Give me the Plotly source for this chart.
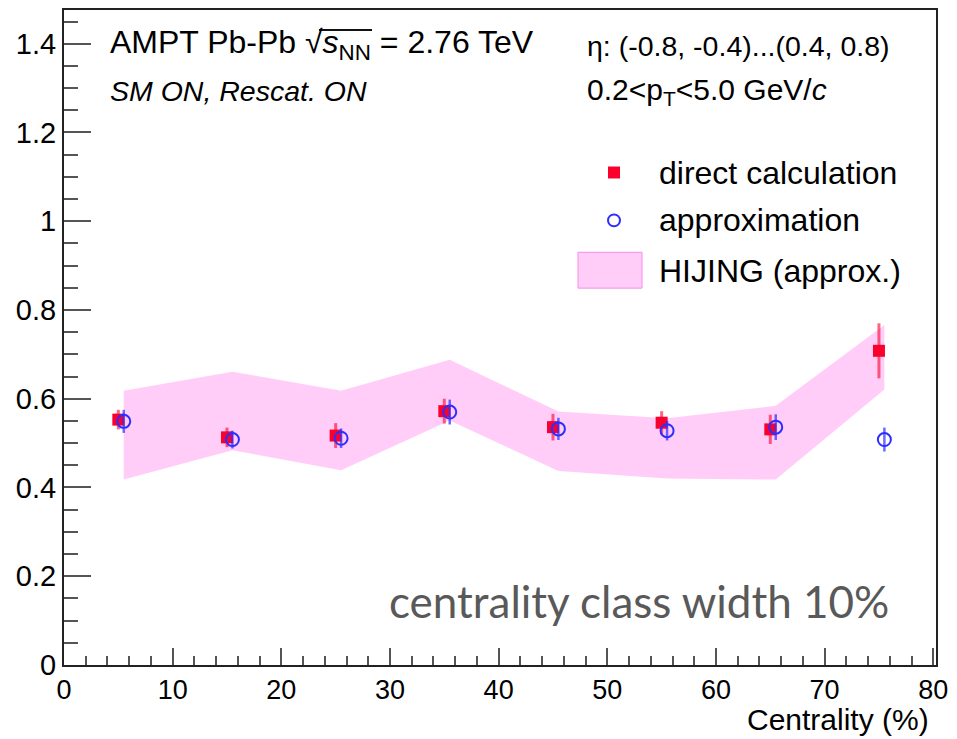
import plotly.graph_objects as go

# Centrality classes (bin centres, %)
centrality = [5, 15, 25, 35, 45, 55, 65, 75]

# AMPT, direct calculation
direct_val = [0.553, 0.513, 0.517, 0.572, 0.536, 0.546, 0.531, 0.708]
direct_err = [0.022, 0.022, 0.028, 0.028, 0.030, 0.026, 0.033, 0.062]

# AMPT, approximation
approx_val = [0.549, 0.508, 0.511, 0.570, 0.532, 0.528, 0.536, 0.508]
approx_err = [0.026, 0.020, 0.022, 0.028, 0.025, 0.022, 0.029, 0.027]

# HIJING (approx.) band edges
hijing_lo = [0.418, 0.484, 0.439, 0.551, 0.437, 0.420, 0.418, 0.621]
hijing_hi = [0.618, 0.661, 0.618, 0.688, 0.571, 0.556, 0.584, 0.766]

x_ticks = [0, 10, 20, 30, 40, 50, 60, 70, 80]
y_ticks = [0, 0.2, 0.4, 0.6, 0.8, 1.0, 1.2, 1.4]

SHIFT = 0.5  # approximation points drawn slightly right of the bin centre
x_app = [c + SHIFT for c in centrality]

RED = "rgb(250,0,45)"
BLUE = "rgb(45,45,255)"
PINK_FILL = "rgba(255,150,238,0.48)"
FONT = "Liberation Sans"

fig = go.Figure()

# HIJING band as a closed polygon
fig.add_trace(go.Scatter(
    x=x_app + x_app[::-1],
    y=hijing_hi + hijing_lo[::-1],
    fill="toself", fillcolor=PINK_FILL,
    line=dict(width=0), mode="lines", hoverinfo="skip", showlegend=False,
))

fig.add_trace(go.Scatter(
    x=centrality, y=direct_val, mode="markers",
    marker=dict(symbol="square", size=12, color=RED),
    error_y=dict(type="data", array=direct_err, color="rgba(250,0,45,0.6)",
                 thickness=3, width=0),
    showlegend=False,
))

fig.add_trace(go.Scatter(
    x=x_app, y=approx_val, mode="markers",
    marker=dict(symbol="circle-open", size=13, color=BLUE, line=dict(width=2, color=BLUE)),
    error_y=dict(type="data", array=approx_err, color="rgba(45,45,255,0.7)",
                 thickness=2.5, width=0),
    showlegend=False,
))

W, H = 957, 739
L, R, T, B = 64, 21, 8, 74


def px(x):
    return (x - L) / (W - L - R)


def py(y):
    return (H - B - y) / (H - T - B)


def note(text, x, y, size, xanchor="left", color="black", family=FONT):
    fig.add_annotation(
        text=text, x=px(x), y=py(y), xref="paper", yref="paper",
        xanchor=xanchor, yanchor="middle", showarrow=False,
        font=dict(family=family, size=size, color=color),
    )


note("AMPT Pb-Pb √<i>s</i><sub>NN</sub> = 2.76 TeV", 108, 43, 32)
# bar of the square-root sign, spanning s_NN
fig.add_shape(type="rect", xref="paper", yref="paper", layer="above",
              x0=px(319), x1=px(372), y0=py(29), y1=py(27),
              fillcolor="#111111", line=dict(width=0))
note("<i>SM ON, Rescat. ON</i>", 108, 89, 28.5)
note("η: (-0.8, -0.4)...(0.4, 0.8)", 585, 44, 28.5)
note("0.2&lt;p<sub>T</sub>&lt;5.0 GeV/<i>c</i>", 585, 90, 30)

# legend
note("direct calculation", 657, 171, 32)
note("approximation", 657, 219, 32)
note("HIJING (approx.)", 657, 270, 32)
fig.add_shape(type="rect", xref="paper", yref="paper",
              x0=px(608), x1=px(620), y0=py(177), y1=py(165),
              fillcolor=RED, line=dict(width=0))
fig.add_shape(type="circle", xref="paper", yref="paper",
              x0=px(608), x1=px(620), y0=py(225), y1=py(213),
              line=dict(width=2, color=BLUE))
fig.add_shape(type="rect", xref="paper", yref="paper",
              x0=px(578), x1=px(642), y0=py(287), y1=py(251),
              fillcolor=PINK_FILL, line=dict(width=1, color="rgb(245,140,235)"))

note("centrality class width 10%", 387, 601, 44, color="#595959", family="Lato")
note("Centrality (%)", 931, 720, 30, xanchor="right")

axis_common = dict(
    showgrid=False, zeroline=False, showline=True, mirror=True,
    linecolor="#222222", linewidth=2, ticks="inside", tickcolor="#555555",
    tickwidth=1.5, tickfont=dict(family=FONT, size=27, color="black"),
)

fig.update_xaxes(
    range=[0, 80.25], tickvals=x_ticks, ticklen=17,
    minor=dict(dtick=2, ticks="inside", ticklen=9, tickcolor="#555555", tickwidth=1.5),
    **axis_common,
)
fig.update_yaxes(
    range=[0, 1.476], tickvals=y_ticks, ticklen=27,
    minor=dict(dtick=0.05, ticks="inside", ticklen=14, tickcolor="#555555", tickwidth=1.5),
    **axis_common,
)
fig.update_yaxes(tickfont=dict(size=29))

fig.update_layout(
    width=W, height=H, margin=dict(l=L, r=R, t=T, b=B),
    plot_bgcolor="white", paper_bgcolor="white", showlegend=False,
)

fig.write_html("out.html")
